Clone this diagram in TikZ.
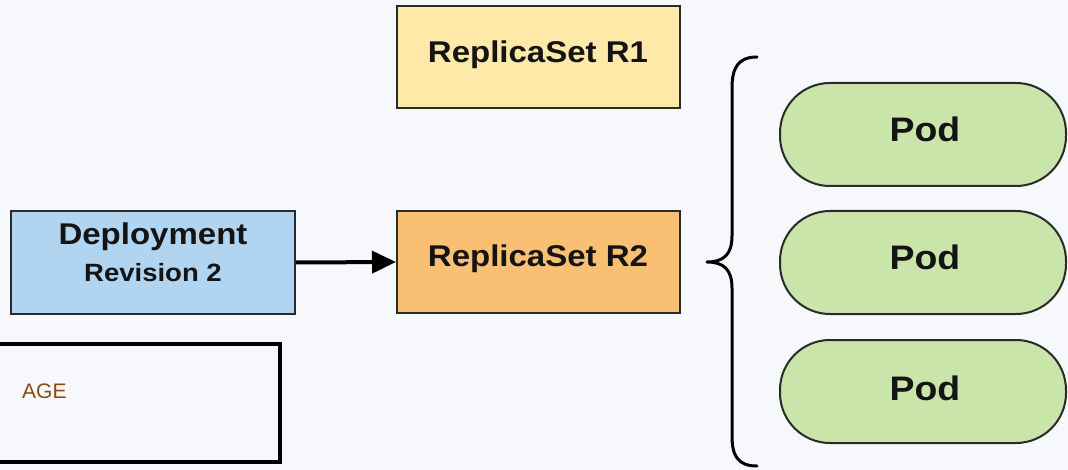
\documentclass[tikz,border=0pt]{standalone}
\usepackage{fontspec}
\setmainfont{Liberation Sans}
\newfontfamily\wfont[FakeStretch=1.1]{Liberation Sans}
\usetikzlibrary{arrows.meta}
\definecolor{bg}{HTML}{F7F8FC}
\definecolor{rsone}{HTML}{FEE9A8}
\definecolor{rstwo}{HTML}{F9BF72}
\definecolor{dep}{HTML}{B1D5F0}
\definecolor{podc}{HTML}{C9E5AA}
\definecolor{edgec}{HTML}{2A2A2A}
\definecolor{agec}{HTML}{8B4A12}
\begin{document}
\begin{tikzpicture}[x=1pt,y=-1pt,
  box/.style={draw=edgec, line width=2pt, minimum width=283pt, minimum height=102pt, inner sep=0pt},
  podbox/.style={draw=edgec, line width=2pt, fill=podc, rounded corners=50pt, minimum width=286pt, minimum height=103pt, inner sep=0pt},
  lbl/.style={anchor=base, inner sep=0pt, font=\wfont\bfseries\fontsize{30}{30}\selectfont, text=black!92},
  sublbl/.style={lbl, font=\wfont\bfseries\fontsize{25}{25}\selectfont},
  podlbl/.style={lbl, font=\wfont\bfseries\fontsize{34}{34}\selectfont},
  agelbl/.style={anchor=base west, inner sep=0pt, font=\fontsize{21}{21}\selectfont, text=agec},
  conn/.style={line width=4pt, draw=black, -{Triangle[length=24pt,width=22pt]}},
  bracestyle/.style={line width=3pt, draw=black, line cap=round, line join=round}]
\useasboundingbox (0,0) rectangle (1068,470);
\fill[bg] (0,0) rectangle (1068,470);
% boxes
\node[box, fill=rsone] (r1) at (538.5,57) {};
\node[box, fill=rstwo] (r2) at (538.5,262) {};
\node[box, fill=dep, minimum width=284pt, minimum height=103pt] (dep) at (153,262.5) {};
\node[draw=black, line width=4pt, minimum width=283pt, minimum height=118pt, inner sep=0pt] (agebox) at (138,403) {};
\node[podbox] (p1) at (923,134.5) {};
\node[podbox] (p2) at (923,262.5) {};
\node[podbox] (p3) at (923,391.5) {};
% labels
\node[lbl] (r1t) at (538,63) {ReplicaSet R1};
\node[lbl] (r2t) at (538,267) {ReplicaSet R2};
\node[lbl] (dept) at (153,245) {Deployment};
\node[sublbl] (revt) at (153,282) {Revision 2};
\node[podlbl] (p1t) at (925,142) {Pod};
\node[podlbl] (p2t) at (925,270) {Pod};
\node[podlbl] (p3t) at (925,400) {Pod};
\node[agelbl] (aget) at (22,398) {AGE};
% connector
\draw[conn] (dep.east) -- (r2.west);
% brace
\coordinate (btop) at (757,57);
\coordinate (btip) at (707,262);
\coordinate (bbot) at (757,466);
\draw[bracestyle] (btop) .. controls (738,57) and (732,68) .. (732,88)
  -- (732,236) .. controls (732,254) and (724,262) .. (btip)
  .. controls (724,262) and (732,270) .. (732,288)
  -- (732,436) .. controls (732,456) and (738,466) .. (bbot);
\end{tikzpicture}
\end{document}
